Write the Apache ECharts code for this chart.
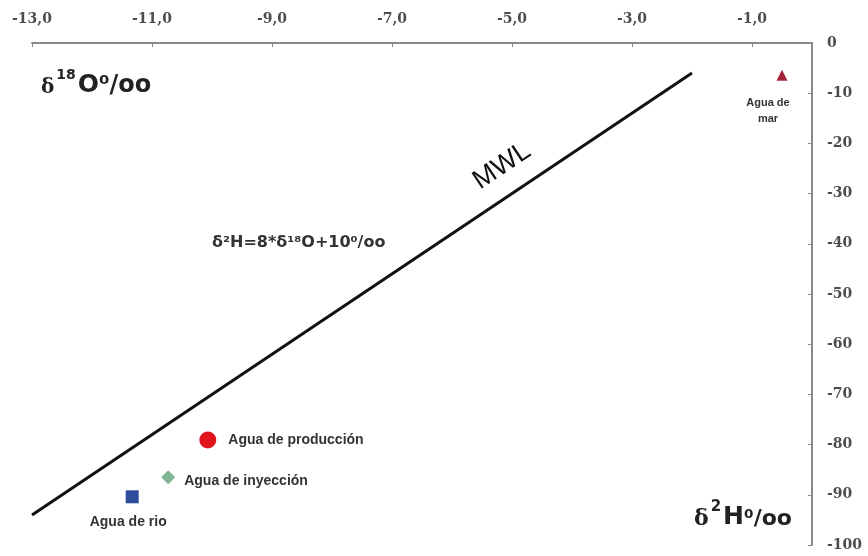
<!DOCTYPE html>
<html><head><meta charset="utf-8">
<script src="https://cdn.jsdelivr.net/npm/echarts@6/dist/echarts.min.js"></script>
<style>html,body{margin:0;padding:0;background:#fff}#c{width:868px;height:556px}</style>
</head><body><div id="c"></div>
<script>
// ---- data ----
const xTickValues = [-13, -11, -9, -7, -5, -3, -1];
const mwlX = [-13, -2];
const mwlY = [-94, -6];
const sampleNames = ['Agua de mar', 'Agua de producción', 'Agua de inyección', 'Agua de rio'];
const sampleX = [-0.5, -10.07, -10.73, -11.33];
const sampleY = [-6.4, -79.1, -86.5, -90.4];

const chart = echarts.init(document.getElementById('c'), null, {renderer: 'canvas'});
const labelFont = {fontFamily: 'DejaVu Serif', fontWeight: 'bold', fontSize: 14, color: '#4d4d4d'};
const ptLabel = {fontFamily: 'Liberation Sans', fontWeight: 'bold', fontSize: 14, color: '#333'};

function pt(i, symbol, size, color, labelCfg) {
  return {
    type: 'scatter', name: sampleNames[i], symbol: symbol, symbolSize: size,
    itemStyle: {color: color, opacity: 1},
    data: [[sampleX[i], sampleY[i]]],
    label: Object.assign({show: true, formatter: labelCfg.text || sampleNames[i]}, ptLabel, labelCfg.style),
    z: 5
  };
}

const option = {
  backgroundColor: '#fff',
  animation: false,
  grid: {left: 32, right: 56, top: 43, bottom: 11},
  xAxis: {
    type: 'value', position: 'top', min: -13, max: 0,
    splitLine: {show: false},
    axisLine: {show: true, lineStyle: {color: '#8a8a8a', width: 2}},
    axisTick: {show: true, inside: true, length: 4, customValues: xTickValues, lineStyle: {color: '#8a8a8a'}},
    axisLabel: Object.assign({customValues: xTickValues, margin: 17,
      formatter: v => v.toFixed(1).replace('.', ',')}, labelFont)
  },
  yAxis: {
    type: 'value', position: 'right', min: -100, max: 0, interval: 10,
    splitLine: {show: false},
    axisLine: {show: true, onZero: false, lineStyle: {color: '#8a8a8a', width: 2}},
    axisTick: {show: true, inside: true, length: 4, lineStyle: {color: '#8a8a8a'}},
    axisLabel: Object.assign({margin: 15, formatter: v => String(v)}, labelFont)
  },
  series: [
    {
      type: 'line', name: 'MWL', data: mwlX.map((x, i) => [x, mwlY[i]]),
      symbol: 'none', lineStyle: {color: '#111', width: 3}, z: 3
    },
    pt(0, 'triangle', 11, '#a3243b', {text: 'Agua de\nmar', style: {position: 'bottom', distance: 14, fontSize: 11, lineHeight: 16, align: 'center', offset: [-14, 0]}}),
    pt(1, 'circle', 17, '#e0141e', {style: {position: 'right', distance: 12}}),
    pt(2, 'diamond', 14, '#7fb592', {style: {position: 'right', distance: 9, offset: [0, 4]}}),
    pt(3, 'rect', 13, '#2e4c9c', {style: {position: 'bottom', distance: 12, offset: [-4, 0]}})
  ],
  graphic: [
    {
      type: 'text', left: 41, top: 68,
      style: {
        text: '{d|δ}{s|18}{b|O}{p|⁰/oo}',
        rich: {
          d: {fontFamily: 'DejaVu Serif', fontSize: 20, fontWeight: 'bold', fill: '#222', lineHeight: 30, verticalAlign: 'bottom'},
          s: {fontFamily: 'DejaVu Sans', fontSize: 14, fontWeight: 'bold', fill: '#222', lineHeight: 30, verticalAlign: 'top', padding: [0, 2, 0, 2]},
          b: {fontFamily: 'DejaVu Sans', fontSize: 25, fontWeight: 'bold', fill: '#222', lineHeight: 30, verticalAlign: 'bottom'},
          p: {fontFamily: 'DejaVu Sans', fontSize: 24, fontWeight: 'bold', fill: '#222', lineHeight: 30, verticalAlign: 'bottom'}
        }
      }
    },
    {
      type: 'text', left: 694, top: 500,
      style: {
        text: '{d|δ}{s|2}{b|H}{p|⁰/oo}',
        rich: {
          d: {fontFamily: 'DejaVu Serif', fontSize: 22, fontWeight: 'bold', fill: '#222', lineHeight: 30, verticalAlign: 'bottom'},
          s: {fontFamily: 'DejaVu Sans', fontSize: 15, fontWeight: 'bold', fill: '#222', lineHeight: 30, verticalAlign: 'top', padding: [0, 2, 0, 2]},
          b: {fontFamily: 'DejaVu Sans', fontSize: 25, fontWeight: 'bold', fill: '#222', lineHeight: 30, verticalAlign: 'bottom'},
          p: {fontFamily: 'DejaVu Sans', fontSize: 22, fontWeight: 'bold', fill: '#222', lineHeight: 30, verticalAlign: 'bottom'}
        }
      }
    },
    {
      type: 'text', x: 502, y: 166, rotation: 33.8 * Math.PI / 180,
      style: {text: 'MWL', fontFamily: 'Liberation Sans Narrow, Liberation Sans', fontSize: 27, fill: '#111', align: 'center', verticalAlign: 'middle'}
    },
    {
      type: 'text', left: 212, top: 235,
      style: {
        text: 'δ²H=8*δ¹⁸O+10⁰/oo',
        fontFamily: 'DejaVu Sans', fontSize: 16, fontWeight: 'bold', fill: '#333'
      }
    }
  ]
};
chart.setOption(option);
</script>
</body></html>
